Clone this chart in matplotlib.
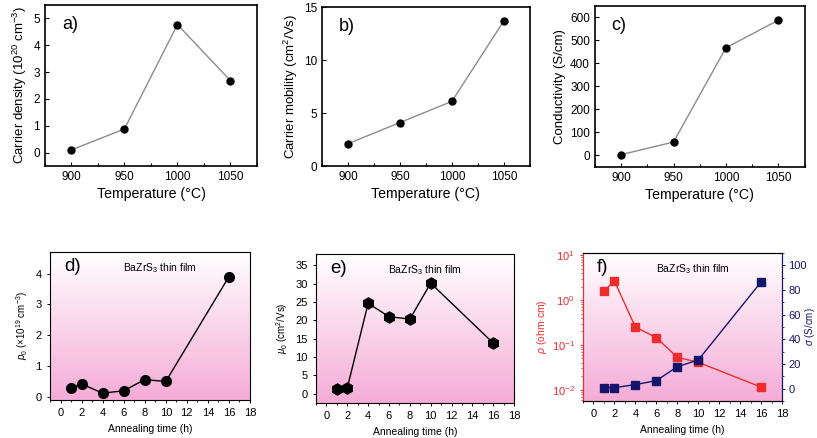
import numpy as np
import matplotlib
matplotlib.use('Agg')
import matplotlib.pyplot as plt
from matplotlib.ticker import MultipleLocator, LogLocator, NullFormatter

plt.rcParams['font.family'] = ['Liberation Sans', 'DejaVu Sans']
plt.rcParams['mathtext.fontset'] = 'custom'
plt.rcParams['mathtext.rm'] = 'Liberation Sans'
plt.rcParams['mathtext.it'] = 'Liberation Sans:italic'

# top row data (temperature series)
temps = [900, 950, 1000, 1050]
carrier_density = [0.10, 0.88, 4.77, 2.68]
carrier_mobility = [2.1, 4.1, 6.1, 13.7]
conductivity = [3, 58, 468, 588]

# bottom row data (annealing time series)
anneal_time = [1, 2, 4, 6, 8, 10, 16]
p0 = [0.28, 0.42, 0.12, 0.20, 0.56, 0.50, 3.90]
mu0 = [1.3, 1.6, 24.6, 21.0, 20.3, 30.1, 13.8]
rho = [1.6, 2.65, 0.25, 0.145, 0.053, 0.041, 0.0115]
sigma = [0.8, 0.8, 3.3, 6.5, 17.8, 23.2, 86.5]

RED = '#ee2c2c'
NAVY = '#15156b'
PINK = np.array([245, 172, 215]) / 255.0

fig = plt.figure(figsize=(8.17, 4.38), dpi=100)


def top_panel(rect, y, ylim, yticks, ylabel, letter):
    ax = fig.add_axes(rect)
    ax.plot(temps, y, '-', color='#8c8c8c', lw=1.0, zorder=2)
    ax.plot(temps, y, 'o', color='black', ms=5, zorder=3)
    ax.set_xlim(875, 1075)
    ax.set_ylim(*ylim)
    ax.set_xticks(temps)
    ax.xaxis.set_minor_locator(MultipleLocator(25))
    ax.set_yticks(yticks)
    ax.tick_params(direction='in', labelsize=8.5, length=3, width=0.8)
    ax.tick_params(which='minor', direction='in', length=2, width=0.8)
    ax.set_xlabel('Temperature (°C)', fontsize=10.2, labelpad=3)
    ax.set_ylabel(ylabel, fontsize=9.5, labelpad=3)
    for s in ax.spines.values():
        s.set_linewidth(1.2)
    ax.text(0.08, 0.93, letter, transform=ax.transAxes, fontsize=13,
            va='top', ha='left')
    return ax


top_panel([0.055, 0.621, 0.2595, 0.3676], carrier_density, (-0.5, 5.5),
          range(0, 6), 'Carrier density (10$^{20}$ cm$^{-3}$)', 'a)')
top_panel([0.394, 0.621, 0.2546, 0.363], carrier_mobility, (0, 15),
          [0, 5, 10, 15], 'Carrier mobility (cm$^{2}$/Vs)', 'b)')
top_panel([0.728, 0.619, 0.257, 0.3676], conductivity, (-50, 650),
          range(0, 700, 100), 'Conductivity (S/cm)', 'c)')


def gradient_bg(rect):
    bg = fig.add_axes(rect, zorder=0)
    t = np.linspace(0, 1, 256)[:, None]
    img = np.ones((256, 1, 3)) * (1 - t[:, :, None]) + PINK * t[:, :, None]
    # first image row is white and sits at the top
    bg.imshow(img, aspect='auto', extent=[0, 1, 0, 1], origin='upper')
    bg.set_axis_off()


def bottom_panel(rect, letter):
    gradient_bg(rect)
    ax = fig.add_axes(rect, zorder=1)
    ax.set_facecolor('none')
    ax.set_xlim(-1, 18)
    ax.set_xticks(range(0, 19, 2))
    ax.xaxis.set_minor_locator(MultipleLocator(1))
    ax.tick_params(direction='out', labelsize=8, length=2.5, width=0.7)
    ax.tick_params(which='minor', direction='out', length=1.5, width=0.6)
    ax.set_xlabel('Annealing time (h)', fontsize=7.5)
    for s in ax.spines.values():
        s.set_linewidth(0.8)
    ax.text(0.07, 0.96, letter, transform=ax.transAxes, fontsize=13.5,
            va='top', ha='left')
    ax.text(0.55, 0.94, 'BaZrS$_3$ thin film', transform=ax.transAxes,
            fontsize=7.5, va='top', ha='center')
    return ax


ax_d = bottom_panel([0.0612, 0.0868, 0.2448, 0.338], 'd)')
ax_d.plot(anneal_time, p0, '-', color='black', lw=1.0)
ax_d.plot(anneal_time, p0, 'o', color='black', ms=7)
ax_d.set_ylim(-0.1, 4.7)
ax_d.set_yticks(range(0, 5))
ax_d.set_ylabel('$p_0$ (×10$^{19}$ cm$^{-3}$)', fontsize=7)

ax_e = bottom_panel([0.3868, 0.0799, 0.2424, 0.340], 'e)')
ax_e.plot(anneal_time, mu0, '-', color='black', lw=1.0)
ax_e.plot(anneal_time, mu0, 'h', color='black', ms=8)
ax_e.set_ylim(-2.5, 38)
ax_e.set_yticks(range(0, 40, 5))
ax_e.set_ylabel('$\\mu_0$ (cm$^2$/Vs)', fontsize=7)

ax_f = bottom_panel([0.7136, 0.0845, 0.2436, 0.338], 'f)')
ax_f.plot(anneal_time, rho, 's-', color=RED, ms=6, lw=1.0)
ax_f.set_yscale('log')
ax_f.set_ylim(10 ** -2.25, 10 ** 1.05)
ax_f.yaxis.set_major_locator(LogLocator(base=10, numticks=10))
ax_f.yaxis.set_minor_locator(LogLocator(base=10, subs=np.arange(2, 10), numticks=10))
ax_f.yaxis.set_minor_formatter(NullFormatter())
ax_f.tick_params(axis='y', which='both', colors=RED)
ax_f.spines['left'].set_color(RED)
ax_f.set_ylabel('$\\rho$ (ohm·cm)', fontsize=7.5, color=RED, labelpad=2)

ax_f2 = ax_f.twinx()
ax_f2.plot(anneal_time, sigma, 's-', color=NAVY, ms=6, lw=1.0)
ax_f2.set_ylim(-10, 110)
ax_f2.set_yticks(range(0, 101, 20))
ax_f2.yaxis.set_minor_locator(MultipleLocator(10))
ax_f2.tick_params(axis='y', which='major', colors=NAVY, labelsize=8, direction='out',
                  length=2.5, width=0.7, pad=2)
ax_f2.tick_params(axis='y', which='minor', colors=NAVY, direction='out',
                  length=1.5, width=0.6)
ax_f2.spines['right'].set_color(NAVY)
ax_f2.spines['left'].set_color(RED)
ax_f2.set_ylabel('$\\sigma$ (S/cm)', fontsize=7, color=NAVY)
ax_f2.yaxis.set_label_coords(1.105, 0.5)

fig.savefig('out.png', dpi=100)
